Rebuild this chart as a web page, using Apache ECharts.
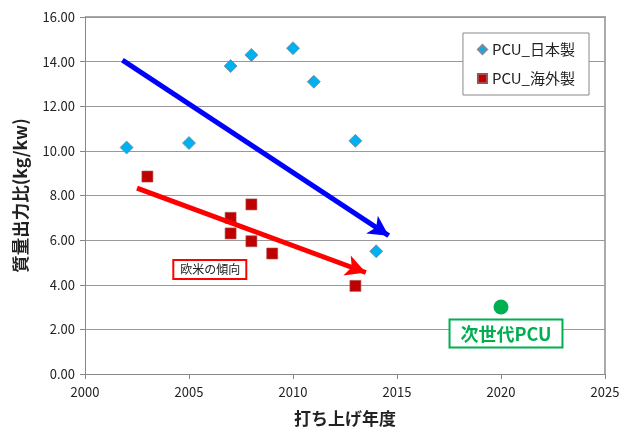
<!DOCTYPE html>
<html>
<head>
<meta charset="utf-8">
<script src="https://cdn.jsdelivr.net/npm/echarts@6/dist/echarts.min.js"></script>
<style>
  html, body { margin: 0; padding: 0; background: #fff; }
  #chart { width: 622px; height: 428px; }
</style>
</head>
<body>
<div id="chart"></div>
<script>
// 日本製 PCU: [打ち上げ年度, 質量出力比]
const japanData = [
  [2002, 10.15], [2005, 10.35], [2007, 13.8], [2008, 14.3],
  [2010, 14.6], [2011, 13.1], [2013, 10.45], [2014, 5.5]
];
// 海外製 PCU
const overseasData = [
  [2003, 8.85], [2007, 7.0], [2007, 6.3], [2008, 7.6],
  [2008, 5.95], [2009, 5.4], [2013, 3.95]
];
// 次世代 PCU 目標
const nextGenData = [[2020, 3.0]];

// 傾向の矢印 (始点, 終点)
const japanTrend = [[2001.8, 14.07], [2014.6, 6.2]];
const overseasTrend = [[2002.5, 8.33], [2013.5, 4.55]];

const seriesNames = ['PCU_日本製', 'PCU_海外製'];
const xTicks = { min: 2000, max: 2025, interval: 5 };
const yTicks = { min: 0, max: 16, interval: 2 };

const font = '"Noto Sans CJK JP", "Noto Sans", sans-serif';
const chart = echarts.init(document.getElementById('chart'));

function arrow(pts, color) {
  return {
    silent: true,
    symbol: ['none', 'arrow'],
    symbolSize: [16, 20],
    label: { show: false },
    lineStyle: { color: color, width: 5, type: 'solid' },
    data: [[{ coord: pts[0] }, { coord: pts[1] }]]
  };
}

chart.setOption({
  animation: false,
  textStyle: { fontFamily: font },
  grid: { left: 85, right: 17, top: 17, bottom: 54, outerBoundsMode: 'none', containLabel: false },
  legend: {
    data: [
      { name: seriesNames[0], icon: 'diamond' },
      { name: seriesNames[1], icon: 'rect' }
    ],
    orient: 'vertical',
    right: 33, top: 33,
    itemWidth: 9, itemHeight: 9, itemGap: 14,
    padding: [9, 14, 9, 14],
    backgroundColor: '#fff',
    borderColor: '#888', borderWidth: 1,
    textStyle: { fontSize: 15, color: '#222', fontFamily: font }
  },
  xAxis: {
    type: 'value',
    min: xTicks.min, max: xTicks.max, interval: xTicks.interval,
    name: '打ち上げ年度',
    nameLocation: 'middle', nameGap: 36,
    nameTextStyle: { fontSize: 17, fontWeight: 'bold', color: '#222' },
    axisLine: { show: true, lineStyle: { color: '#888' } },
    axisTick: { show: true, length: 5, lineStyle: { color: '#888' } },
    axisLabel: { fontSize: 13, color: '#222', margin: 12, formatter: v => String(v) },
    splitLine: { show: false }
  },
  yAxis: {
    type: 'value',
    min: yTicks.min, max: yTicks.max, interval: yTicks.interval,
    name: '質量出力比(kg/kw)',
    nameLocation: 'middle', nameGap: 56,
    nameTextStyle: { fontSize: 17.5, fontWeight: 'bold', color: '#222' },
    axisLine: { show: true, lineStyle: { color: '#888' } },
    axisTick: { show: true, length: 5, lineStyle: { color: '#888' } },
    axisLabel: { fontSize: 13, color: '#222', margin: 10, formatter: v => v.toFixed(2) },
    splitLine: { show: true, lineStyle: { color: '#999', width: 1 } }
  },
  series: [
    {
      name: seriesNames[0],
      type: 'scatter',
      symbol: 'diamond',
      symbolSize: 13,
      itemStyle: { color: '#00b0f0', borderColor: '#7a8a99', borderWidth: 0.8, opacity: 1 },
      data: japanData,
      markLine: arrow(japanTrend, '#0000ff'),
      z: 3
    },
    {
      name: seriesNames[1],
      type: 'scatter',
      symbol: 'rect',
      symbolSize: 11,
      itemStyle: { color: '#c00000', borderColor: '#a05050', borderWidth: 0.6, opacity: 1 },
      data: overseasData,
      markLine: arrow(overseasTrend, '#ff0000'),
      markPoint: {
        silent: true,
        symbol: 'rect', symbolSize: 0,
        data: [{
          coord: [2006, 4.68],
          label: {
            show: true, position: 'inside',
            formatter: '欧米の傾向',
            fontSize: 12, color: '#222',
            backgroundColor: '#fff',
            borderColor: '#ff0000', borderWidth: 2,
            padding: [3, 5, 2, 6]
          }
        }]
      },
      z: 3
    },
    {
      name: '次世代PCU',
      type: 'scatter',
      symbol: 'circle',
      symbolSize: 15,
      itemStyle: { color: '#00b050', opacity: 1 },
      data: nextGenData,
      label: {
        show: true,
        position: 'bottom',
        distance: 6,
        offset: [5, 0],
        formatter: '次世代PCU',
        fontSize: 18, fontWeight: 'bold', color: '#00b050',
        backgroundColor: '#fff',
        borderColor: '#00b050', borderWidth: 2,
        padding: [5, 10, 3, 10]
      },
      z: 3
    }
  ],
  graphic: [{
    type: 'polyline',
    shape: { points: [[85, 17], [605, 17], [605, 374]] },
    style: { stroke: '#aaa', lineWidth: 2, fill: null },
    silent: true,
    z: 0
  }]
});
</script>
</body>
</html>
